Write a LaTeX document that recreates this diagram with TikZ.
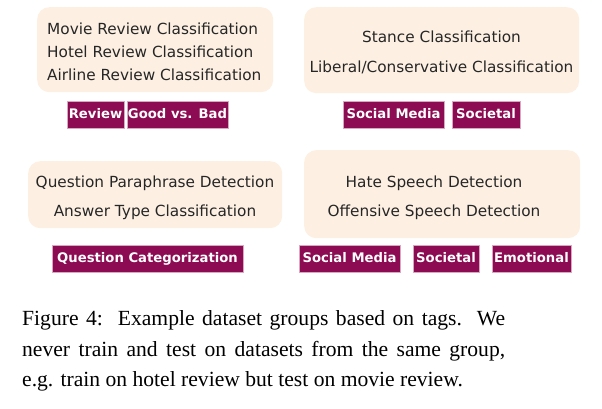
\documentclass[tikz,border=0pt]{standalone}
\usepackage{fontspec}
\setmainfont{Liberation Serif}
\newfontfamily\boxfont{DejaVu Sans}
\definecolor{peach}{HTML}{FDF0E3}
\definecolor{tagred}{HTML}{8C0B52}
\definecolor{tagedge}{HTML}{D9A7C0}
\begin{document}
\begin{tikzpicture}[x=1pt,y=-1pt,
  groupbox/.style={fill=peach, draw=none, rounded corners=12pt, inner sep=0pt, anchor=north west},
  boxtext/.style={inner sep=0pt, font=\boxfont\fontsize{15.3}{18}\selectfont, text=black!85},
  tagbox/.style={fill=tagred, draw=tagedge, line width=0.6pt, text=white, inner sep=0pt,
    minimum height=27pt, text height=10pt, text depth=3pt,
    font=\boxfont\bfseries\fontsize{13.2}{15}\selectfont},
  captext/.style={inner sep=0pt, anchor=base west, font=\fontsize{21.6}{25}\selectfont}]
\useasboundingbox (0,0) rectangle (602,409);
% group boxes
\node[groupbox, minimum width=236pt, minimum height=85pt] (g1) at (37,7) {};
\node[groupbox, minimum width=275pt, minimum height=86pt] (g2) at (304,7) {};
\node[groupbox, minimum width=254pt, minimum height=67pt] (g3) at (28,161) {};
\node[groupbox, minimum width=276pt, minimum height=88pt] (g4) at (304,150) {};
% group texts
\node[boxtext, anchor=base west] (g1a) at (47,35) {Movie Review Classification};
\node[boxtext, anchor=base west] (g1b) at (47,58) {Hotel Review Classification};
\node[boxtext, anchor=base west] (g1c) at (47,81) {Airline Review Classification};
\node[boxtext, anchor=base] (g2a) at (441.5,43) {Stance Classification};
\node[boxtext, anchor=base] (g2b) at (441.5,73) {Liberal/Conservative Classification};
\node[boxtext, anchor=base] (g3a) at (155,187) {Question Paraphrase Detection};
\node[boxtext, anchor=base] (g3b) at (155,216) {Answer Type Classification};
\node[boxtext, anchor=base] (g4a) at (434,187) {Hate Speech Detection};
\node[boxtext, anchor=base] (g4b) at (434,216) {Offensive Speech Detection};
% tags
\node[tagbox, minimum width=57pt] (t1a) at (95.5,114.5) {Review};
\node[tagbox, minimum width=101pt] (t1b) at (177.5,114.5) {Good vs. Bad};
\node[tagbox, minimum width=101pt] (t2a) at (393.5,114.5) {Social Media};
\node[tagbox, minimum width=68pt] (t2b) at (486,114.5) {Societal};
\node[tagbox, minimum width=191pt] (t3a) at (147.5,258.5) {Question Categorization};
\node[tagbox, minimum width=101pt] (t4a) at (349.5,258.5) {Social Media};
\node[tagbox, minimum width=66pt] (t4b) at (446,258.5) {Societal};
\node[tagbox, minimum width=79pt] (t4c) at (531.5,258.5) {Emotional};
% caption
\node[captext] (c1) at (22,325) {\makebox[483pt][s]{Figure 4:\ \ Example dataset groups based on tags.\ \ We}};
\node[captext] (c2) at (22,356) {\makebox[483pt][s]{never train and test on datasets from the same group,}};
\node[captext] (c3) at (22,386) {e.g. train on hotel review but test on movie review.};
\end{tikzpicture}
\end{document}
